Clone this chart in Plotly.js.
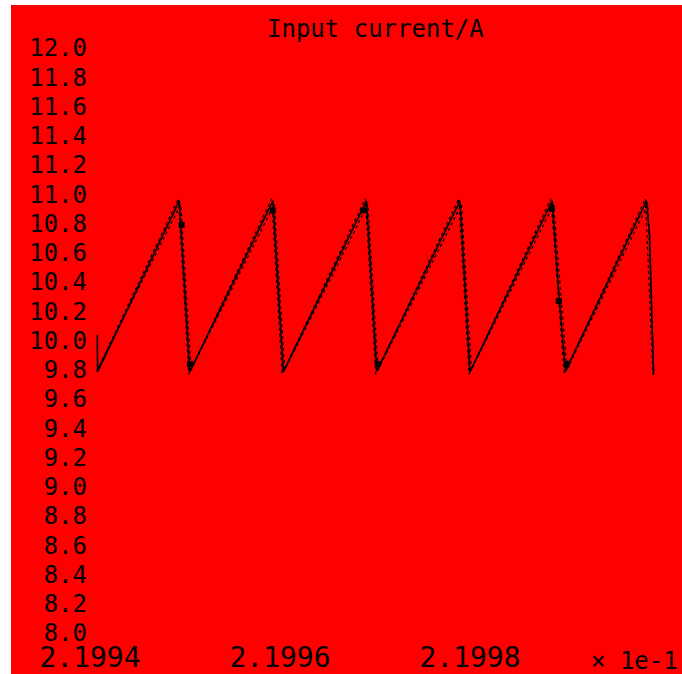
<!DOCTYPE html>
<html>
<head>
<meta charset="utf-8">
<script src="https://cdn.plot.ly/plotly-3.0.1.min.js"></script>
<style>
  html, body { margin: 0; padding: 0; background: #ffffff; width: 682px; height: 674px; overflow: hidden; }
  #chart { position: absolute; left: 11px; top: 5px; width: 671px; height: 669px; }
</style>
</head>
<body>
<div id="chart"></div>
<script>
// time in units of 1e-1 s (as on the axis), current in A
const timeA = [2.1994077, 2.1994080, 2.1994940, 2.1995050, 2.1995925, 2.1996035, 2.1996910, 2.1997018, 2.1997895, 2.1998000, 2.1998865, 2.1998930, 2.1999004, 2.1999858, 2.1999890, 2.1999932];
const currentA = [10.04, 9.785, 10.955, 9.785, 10.955, 9.785, 10.955, 9.790, 10.955, 9.785, 10.955, 10.36, 9.790, 10.955, 10.72, 9.765];
const timeB = [2.1994085, 2.1994955, 2.1995063, 2.1995940, 2.1996050, 2.1996925, 2.1997033, 2.1997910, 2.1998015, 2.1998880, 2.1999020, 2.1999872, 2.1999935];
const currentB = [9.81, 10.93, 9.80, 10.93, 9.80, 10.93, 9.80, 10.93, 9.80, 10.93, 9.80, 10.93, 9.78];
const timeC = [2.1994072, 2.1994930, 2.1995040, 2.1995912, 2.1996022, 2.1996898, 2.1997008, 2.1997882, 2.1997990, 2.1998852, 2.1998992, 2.1999846, 2.1999925];
const currentC = [9.79, 10.97, 9.77, 10.97, 9.77, 10.97, 9.77, 10.97, 9.77, 10.97, 9.77, 10.97, 9.77];
const timeMarks = [2.1994965, 2.1995053, 2.1995923, 2.1996877, 2.1997028, 2.1998860, 2.1998934, 2.1999018];
const currentMarks = [10.79, 9.84, 10.89, 10.89, 9.84, 10.90, 10.27, 9.84];
const xTickVals = [2.1994, 2.1996, 2.1998];
const xTickText = ['2.1994', '2.1996', '2.1998'];
const yTickVals = [8.0, 8.2, 8.4, 8.6, 8.8, 9.0, 9.2, 9.4, 9.6, 9.8, 10.0, 10.2, 10.4, 10.6, 10.8, 11.0, 11.2, 11.4, 11.6, 11.8, 12.0];
const yTickText = ['8.0', '8.2', '8.4', '8.6', '8.8', '9.0', '9.2', '9.4', '9.6', '9.8', '10.0', '10.2', '10.4', '10.6', '10.8', '11.0', '11.2', '11.4', '11.6', '11.8', '12.0'];
const chartTitle = 'Input current/A';
const multiplierLabel = '× 1e-1';

const fontFam = '"DejaVu Sans Mono", monospace';

const traces = [
  { x: timeC, y: currentC, type: 'scatter', mode: 'lines', line: { color: '#000000', width: 1.2, dash: 'dot' }, hoverinfo: 'skip', showlegend: false },
  { x: timeA, y: currentA, type: 'scatter', mode: 'lines', line: { color: '#000000', width: 1.6 }, hoverinfo: 'skip', showlegend: false },
  { x: timeB, y: currentB, type: 'scatter', mode: 'lines', line: { color: '#000000', width: 1.2, dash: 'dot' }, hoverinfo: 'skip', showlegend: false },
  { x: timeMarks, y: currentMarks, type: 'scatter', mode: 'markers', marker: { color: '#000000', size: 6, symbol: 'square' }, hoverinfo: 'skip', showlegend: false }
];

const layout = {
  width: 671, height: 669,
  paper_bgcolor: '#ff0000', plot_bgcolor: '#ff0000',
  margin: { l: 77, r: 10, t: 43, b: 41, pad: 0 },
  showlegend: false,
  xaxis: {
    range: [2.1993979, 2.2000126],
    tickmode: 'array', tickvals: xTickVals, ticktext: xTickText,
    showgrid: false, zeroline: false, showline: false, ticks: '',
    ticklabelstandoff: 5,
    tickfont: { family: fontFam, size: 28, color: '#000000' },
    automargin: false
  },
  yaxis: {
    range: [8.0, 12.0],
    tickmode: 'array', tickvals: yTickVals, ticktext: yTickText,
    showgrid: false, zeroline: false, showline: false, ticks: '',
    tickfont: { family: fontFam, size: 24, color: '#000000' },
    automargin: false
  },
  annotations: [
    { text: chartTitle, xref: 'paper', yref: 'paper', x: 0.493, y: 1, yshift: 19, xanchor: 'center', yanchor: 'middle', showarrow: false,
      font: { family: fontFam, size: 24, color: '#000000' } },
    { text: multiplierLabel, xref: 'paper', yref: 'paper', x: 0.9366, y: 0, yshift: -28, xanchor: 'center', yanchor: 'middle', showarrow: false,
      font: { family: fontFam, size: 24, color: '#000000' } }
  ]
};

Plotly.newPlot('chart', traces, layout, { staticPlot: true, displayModeBar: false });
</script>
</body>
</html>
